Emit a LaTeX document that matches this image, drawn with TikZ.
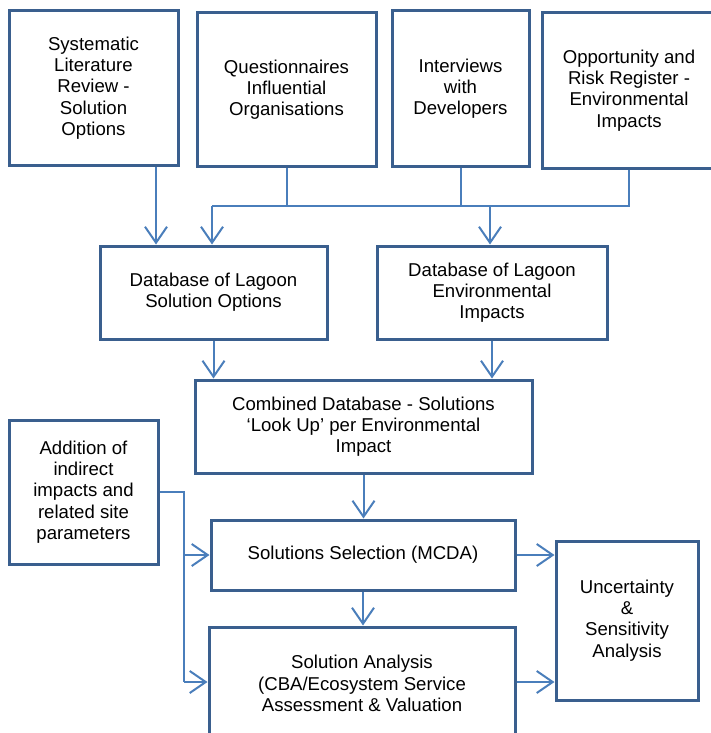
\documentclass[tikz,border=0pt]{standalone}
\usepackage{fontspec}
\setmainfont{Liberation Sans}
\usetikzlibrary{arrows.meta}
\definecolor{boxc}{HTML}{3A5F8E}
\definecolor{connc}{HTML}{4A7EBB}
\tikzset{
  box/.style={draw=boxc, line width=3pt, inner sep=0pt, align=center, fill=white,
    font=\fontsize{18.6}{21.3}\selectfont},
  conn/.style={draw=connc, line width=2pt},
  arr/.style={conn, -{Straight Barb[length=16pt,width=22pt,line width=2pt]}}
}
\begin{document}
\begin{tikzpicture}[x=1pt,y=-1pt]
\useasboundingbox (0,0) rectangle (711,733);
\clip (0,0) rectangle (711,733);
\node[box, minimum width=169pt, minimum height=154pt] (b1) at (93.5,88) {Systematic\\Literature\\Review -\\Solution\\Options};
\node[box, minimum width=179pt, minimum height=153pt] (b2) at (286.5,89.5) {Questionnaires\\Influential\\Organisations};
\node[box, minimum width=137pt, minimum height=155pt] (b3) at (460.5,88.5) {Interviews\\with\\Developers};
\node[box, minimum width=174pt, minimum height=155pt] (b4) at (629,90.5) {Opportunity and\\Risk Register -\\Environmental\\Impacts};
\node[box, minimum width=227pt, minimum height=93pt] (db1) at (213.5,292.5) {Database of Lagoon\\Solution Options};
\node[box, minimum width=230pt, minimum height=93pt] (db2) at (492,292.5) {Database of Lagoon\\Environmental\\Impacts};
\node[box, minimum width=337pt, minimum height=93pt] (comb) at (363.5,426.5) {Combined Database - Solutions\\‘Look Up’ per Environmental\\Impact};
\node[box, minimum width=149pt, minimum height=144pt] (add) at (83.5,492) {Addition of\\indirect\\impacts and\\related site\\parameters};
\node[box, minimum width=304pt, minimum height=70pt] (sel) at (363,555) {Solutions Selection (MCDA)};
\node[box, minimum width=306pt, minimum height=113pt] (ana) at (362,683.5) {Solution Analysis\\(CBA/Ecosystem Service\\Assessment \& Valuation};
\node[box, minimum width=142pt, minimum height=159pt] (unc) at (627,620.5) {Uncertainty\\\&\\Sensitivity\\Analysis};
\coordinate (c1) at (156,0);
\coordinate (j1) at (212,206);
\coordinate (j2) at (490,206);
\coordinate (j5) at (184,492);
\coordinate (j6) at (184,682);
\draw[arr] (b1.south -| c1) -- (db1.north -| c1);
\draw[conn] (b2.south) -- (b2.south |- j1);
\draw[conn] (b3.south) -- (b3.south |- j1);
\draw[conn] (b4.south) -- (b4.south |- j1) -- (j1);
\draw[arr] (j1) -- (db1.north -| j1);
\draw[arr] (j2) -- (db2.north -| j2);
\draw[arr] (db1.south) -- (comb.north -| db1.south);
\draw[arr] (db2.south) -- (comb.north -| db2.south);
\draw[arr] (comb.south) -- (sel.north -| comb.south);
\draw[arr] (sel.south) -- (ana.north -| sel.south);
\draw[conn] (add.east) -- (j5) -- (j6);
\draw[arr] (j5 |- sel.west) -- (sel.west);
\draw[arr] (j6) -- (ana.west |- j6);
\draw[arr] (sel.east) -- (unc.west |- sel.east);
\draw[arr] (ana.east |- j6) -- (unc.west |- j6);
\end{tikzpicture}
\end{document}
